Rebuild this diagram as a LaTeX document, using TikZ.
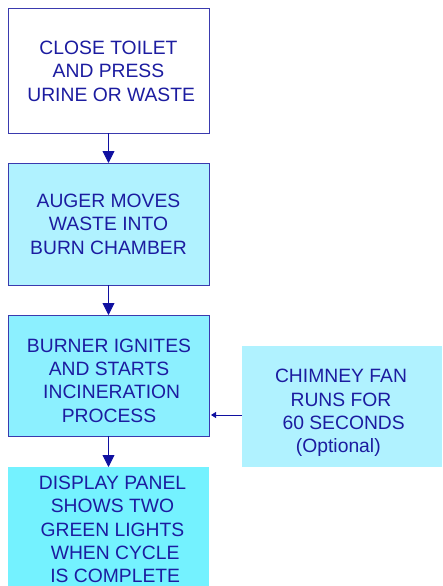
\documentclass[tikz,border=0pt]{standalone}
\usepackage{fontspec}
\setmainfont{Liberation Sans}
\usetikzlibrary{arrows.meta}
\definecolor{txtblue}{HTML}{1C1CA0}
\definecolor{edgeblue}{HTML}{3A3AAE}
\definecolor{arrblue}{HTML}{1010A0}
\definecolor{fillA}{HTML}{B0F2FF}
\definecolor{fillB}{HTML}{8CF0FF}
\definecolor{fillC}{HTML}{74F2FF}
\tikzset{
  box/.style={rectangle, minimum width=201pt, minimum height=122pt, inner sep=0pt, outer sep=0pt,
    align=center, text=txtblue, font=\fontsize{19.3}{23.4}\selectfont},
  framed/.style={box, draw=edgeblue, line width=1pt},
  flow/.style={draw=arrblue, line width=0.9pt, -{Triangle[length=12pt,width=12pt]}},
  sideflow/.style={draw=arrblue, line width=0.9pt, -{Triangle[length=5pt,width=6pt]}},
}
\begin{document}
\begin{tikzpicture}[x=1pt,y=-1pt]
\useasboundingbox (0,0) rectangle (442,586);
\node[framed, fill=white, minimum height=124pt] (close) at (108.5,71) {CLOSE TOILET\\AND PRESS\ \\\ URINE OR WASTE};
\node[framed, fill=fillA] (auger) at (108.5,224) {AUGER MOVES\\WASTE INTO\\BURN CHAMBER};
\node[framed, fill=fillB, minimum height=121pt] (burner) at (108.5,375.5) {};
\node[box, text=txtblue] (burnertxt) at (109,380.5) {BURNER IGNITES\\AND STARTS\\\ INCINERATION\\PROCESS};
\node[box, fill=fillC, minimum height=120pt] (display) at (108.5,527) {};
\node[box] (displaytxt) at (112.5,529.5) {DISPLAY PANEL\\SHOWS TWO\\GREEN LIGHTS\\\ WHEN CYCLE\\\ IS COMPLETE};
\node[box, fill=fillA, minimum height=121pt, minimum width=200pt] (fan) at (342,406.5) {};
\node[box] (fantxt) at (341,413) {CHIMNEY FAN\\RUNS FOR\ \\\ 60 SECONDS\\(Optional)\ \ };
\draw[flow] (close.south) -- (auger.north);
\draw[flow] (auger.south) -- (burner.north);
\draw[flow] (burner.south) -- (display.north);
\coordinate (fanin) at (fan.west |- 0,415);
\coordinate (burnin) at (burner.east |- 0,415);
\draw[sideflow] (fanin) -- ([xshift=2pt]burnin);
\end{tikzpicture}
\end{document}
